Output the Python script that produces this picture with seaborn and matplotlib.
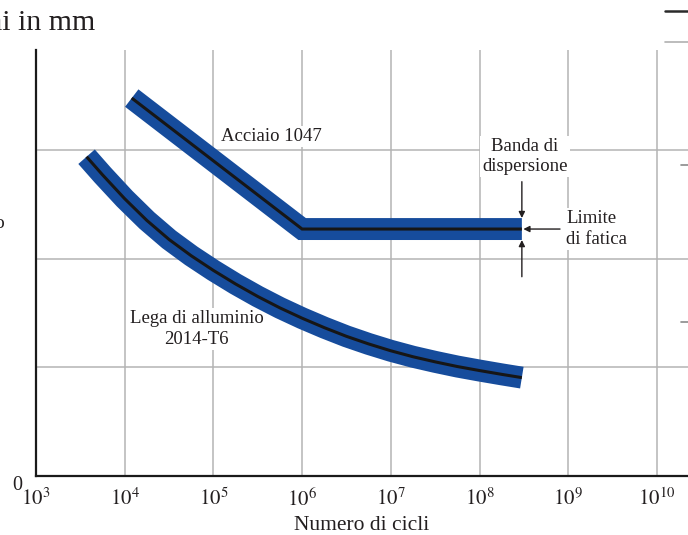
import numpy as np
import pandas as pd
import matplotlib
matplotlib.use("Agg")
import matplotlib.pyplot as plt
from matplotlib.lines import Line2D
from matplotlib.ticker import FixedLocator, FixedFormatter
import seaborn as sns

# S-N curves (cycles, amplitude in grid units)
steel_cycles = [1.2e4, 1.0e6, 3.0e8]
steel_amp = [3.48, 2.274, 2.274]

alu_log_cycles = [3.57, 3.75, 4.0, 4.25, 4.5, 4.75, 5.0, 5.25, 5.5, 5.75, 6.0,
                  6.25, 6.5, 6.75, 7.0, 7.25, 7.5, 7.75, 8.0, 8.25, 8.477]
alu_amp = [2.94, 2.773, 2.553, 2.353, 2.178, 2.028, 1.893, 1.768, 1.653, 1.548, 1.453,
           1.366, 1.286, 1.216, 1.153, 1.098, 1.051, 1.008, 0.971, 0.936, 0.906]

decades = [3, 4, 5, 6, 7, 8, 9, 10]
x_tick_labels = [r"$10^{%d}$" % d for d in decades]
y_ticks = [0, 1, 2, 3]
y_tick_labels = ["0", "", "", ""]

steel_label = "Acciaio 1047"
alu_label = "Lega di alluminio\n2014-T6"
band_label = "Banda di\ndispersione"
limit_label = "Limite\ndi fatica"
x_label = "Numero di cicli"

sns.set_theme(style="white")
plt.rcParams["font.family"] = ["Liberation Serif", "DejaVu Serif"]
plt.rcParams["mathtext.fontset"] = "stix"

BLUE = "#164c9c"
INK = "#231f20"
GRID = "#b4b4b4"

W, H = 688, 535
fig = plt.figure(figsize=(W / 100, H / 100), dpi=100)
ax = fig.add_axes([36 / W, (H - 476) / H, (W - 36) / W, (476 - 50) / H])

steel = pd.DataFrame({"cicli": steel_cycles, "ampiezza": steel_amp})
alu = pd.DataFrame({"cicli": [10 ** v for v in alu_log_cycles], "ampiezza": alu_amp})

band_lw = 15.8
core_lw = 2.2
for df, join in [(steel, "miter"), (alu, "round")]:
    sns.lineplot(data=df, x="cicli", y="ampiezza", ax=ax, color=BLUE, lw=band_lw,
                 solid_capstyle="butt", solid_joinstyle=join, sort=False, zorder=3)
    sns.lineplot(data=df, x="cicli", y="ampiezza", ax=ax, color="#161616", lw=core_lw,
                 solid_capstyle="butt", solid_joinstyle=join, sort=False, zorder=4)

ax.set_xscale("log")
ax.set_xlim(1e3, 10 ** 10.35)
ax.set_ylim(0, (476 - 50) / 108.6)

ax.xaxis.set_major_locator(FixedLocator([10.0 ** d for d in decades]))
ax.xaxis.set_major_formatter(FixedFormatter(x_tick_labels))
ax.xaxis.set_minor_locator(FixedLocator([]))
ax.yaxis.set_major_locator(FixedLocator(y_ticks))
ax.yaxis.set_major_formatter(FixedFormatter(y_tick_labels))

ax.grid(True, color=GRID, lw=1.1)
ax.tick_params(axis="x", length=0, pad=9, labelsize=15, labelcolor=INK)
ax.tick_params(axis="y", length=0, pad=10, labelsize=14.5, labelcolor=INK)
for lab in ax.get_yticklabels():
    lab.set_verticalalignment("top")

for side in ["top", "right"]:
    ax.spines[side].set_visible(False)
for side in ["left", "bottom"]:
    ax.spines[side].set_color("#1a1a1a")
    ax.spines[side].set_linewidth(1.6)

ax.set_xlabel(x_label, fontsize=15.5, color=INK, labelpad=4)
ax.set_ylabel("")

txt = dict(color=INK, fontsize=13.5, zorder=2.5)
box = dict(facecolor="white", edgecolor="none", pad=1.5)
ax.text(10 ** 5.082, 3.13, steel_label, ha="left", va="center", bbox=box, **txt)
ax.text(10 ** 4.812, 1.35, alu_label, ha="center", va="center",
        multialignment="center", linespacing=1.3, bbox=box, **txt)
ax.text(10 ** 8.513, 2.94, band_label, ha="center", va="center",
        multialignment="center", linespacing=1.25, bbox=box, **txt)
ax.text(10 ** 8.975, 2.274, limit_label, ha="left", va="center",
        multialignment="left", linespacing=1.3, bbox=box, **txt)

# scatter band and fatigue limit arrows
x_end = steel_cycles[-1]
limit = steel_amp[-1]
half_band = 11 / 108.6
arrow = dict(arrowstyle="-|>", color=INK, lw=1.0, mutation_scale=9,
             shrinkA=0, shrinkB=0)
ax.annotate("", xy=(x_end, limit + half_band), xytext=(x_end, 2.71), arrowprops=arrow, zorder=5)
ax.annotate("", xy=(x_end, limit - half_band), xytext=(x_end, 1.835), arrowprops=arrow, zorder=5)
ax.annotate("", xy=(10 ** 8.494, limit), xytext=(10 ** 8.907, limit), arrowprops=arrow, zorder=5)

# neighbouring panel edge and clipped axis caption
fig.text(-11 / W, 1 - 23 / H, "ai in mm", fontsize=21.5, color=INK, va="center", ha="left")
fig.text(-6 / W, 1 - 223 / H, "o", fontsize=14, color=INK, va="center", ha="left")
fig.add_artist(Line2D([665 / W, 1], [1 - 10.7 / H] * 2, transform=fig.transFigure,
                      color="#2a2a2a", lw=1.8))
fig.add_artist(Line2D([665 / W, 1], [1 - 41.5 / H] * 2, transform=fig.transFigure,
                      color="#b0b0b0", lw=1.2))
for yy in (165, 322):
    fig.add_artist(Line2D([681 / W, 1], [1 - yy / H] * 2, transform=fig.transFigure,
                          color="#8a8a8a", lw=1.2))

fig.savefig("out.png", dpi=100, facecolor="white")
